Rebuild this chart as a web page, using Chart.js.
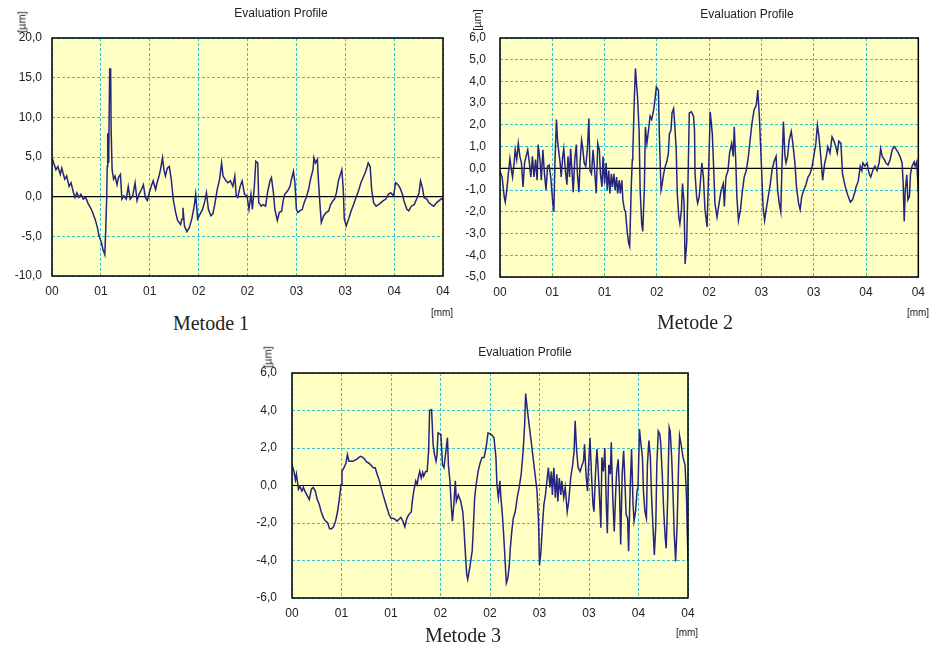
<!DOCTYPE html>
<html><head><meta charset="utf-8">
<script src="https://cdn.jsdelivr.net/npm/chart.js@4.4.0/dist/chart.umd.min.js"></script>
<style>
body{margin:0;background:#fff;width:933px;height:647px;position:relative;overflow:hidden;font-family:"Liberation Sans",Arial,sans-serif;color:#222;}
canvas{position:absolute;}
.t{position:absolute;white-space:nowrap;transform:translate(-50%,-50%);line-height:1;}
.title{font-size:12px;}
.met{font-family:"Liberation Serif","Times New Roman",serif;font-size:20px;}
.mm{font-size:10px;}
.um{font-size:11px;transform:translate(-50%,-50%) rotate(-90deg);}
</style></head>
<body>
<canvas id="c1" width="460" height="295" style="left:0;top:13px"></canvas>
<canvas id="c2" width="473" height="295" style="left:460px;top:13px"></canvas>
<canvas id="c3" width="470" height="277" style="left:240px;top:348px"></canvas>

<div class="t title" style="left:281px;top:13px">Evaluation Profile</div>
<div class="t title" style="left:747px;top:14px">Evaluation Profile</div>
<div class="t title" style="left:525px;top:352px">Evaluation Profile</div>
<div class="t met" style="left:211px;top:323px">Metode 1</div>
<div class="t met" style="left:695px;top:322px">Metode 2</div>
<div class="t met" style="left:463px;top:635px">Metode 3</div>
<div class="t mm" style="left:442px;top:313px">[mm]</div>
<div class="t mm" style="left:918px;top:313px">[mm]</div>
<div class="t mm" style="left:687px;top:633px">[mm]</div>
<div class="t um" style="left:22px;top:22px">[µm]</div>
<div class="t um" style="left:477px;top:20px">[µm]</div>
<div class="t um" style="left:268px;top:357px">[µm]</div>

<script>
// ---- tick labels ----
const xTickLabels = ["00","01","01","02","02","03","03","04","04"];
const yTicks1 = ["-10,0","-5,0","0,0","5,0","10,0","15,0","20,0"];
const yTicks2 = ["-5,0","-4,0","-3,0","-2,0","-1,0","0,0","1,0","2,0","3,0","4,0","5,0","6,0"];
const yTicks3 = ["-6,0","-4,0","-2,0","0,0","2,0","4,0","6,0"];
const zeroLine = [[0,0],[8,0]];

// ---- profile data: [position (grid units), height µm] ----
const metode1 = [[0,4.9],[0.08,3.4],[0.12,3.8],[0.17,2.8],[0.2,3.6],[0.26,2.2],[0.3,2.6],[0.35,1.3],[0.39,1.75],[0.44,0.5],[0.47,-0.1],[0.51,0.5],[0.55,-0.1],[0.59,0.3],[0.64,-0.3],[0.69,-0.1],[0.73,-0.75],[0.77,-1.2],[0.82,-1.8],[0.88,-2.8],[0.93,-3.9],[0.96,-4.9],[1.01,-5.75],[1.04,-6.6],[1.08,-7.3],[1.1,-4.1],[1.12,0.1],[1.13,3.8],[1.14,8.0],[1.16,4.25],[1.18,16.1],[1.2,16.1],[1.21,8.4],[1.23,3.4],[1.26,2.2],[1.29,2.6],[1.33,1.5],[1.36,2.4],[1.4,2.8],[1.43,-0.3],[1.47,0.1],[1.52,-0.3],[1.56,1.3],[1.6,-0.3],[1.65,0.1],[1.7,1.75],[1.74,-0.5],[1.78,0.3],[1.83,0.9],[1.87,1.5],[1.91,-0.1],[1.95,-0.5],[1.99,0.5],[2.03,1.3],[2.07,2.0],[2.12,0.9],[2.15,1.75],[2.19,2.6],[2.22,3.4],[2.26,4.9],[2.29,3.4],[2.32,2.6],[2.36,3.6],[2.4,3.8],[2.44,2.2],[2.48,-0.3],[2.53,-2.0],[2.57,-3.0],[2.63,-3.5],[2.66,-2.8],[2.68,-1.4],[2.71,-3.7],[2.76,-4.4],[2.81,-3.9],[2.86,-2.8],[2.91,-1.2],[2.94,0.3],[2.98,-2.8],[3.03,-2.2],[3.08,-1.6],[3.13,-0.5],[3.16,0.5],[3.2,-1.6],[3.25,-2.4],[3.29,-2.2],[3.33,-1.0],[3.38,0.9],[3.43,2.2],[3.47,4.25],[3.5,2.6],[3.56,2.0],[3.6,1.75],[3.65,2.0],[3.7,1.3],[3.74,2.6],[3.77,0.1],[3.8,-0.1],[3.85,1.3],[3.89,2.0],[3.94,0.3],[3.99,0.1],[4.03,-1.6],[4.07,0.3],[4.1,-1.6],[4.14,1.3],[4.17,4.45],[4.21,4.25],[4.23,-0.75],[4.28,-1.2],[4.32,-1.0],[4.37,-1.2],[4.41,0.5],[4.46,2.0],[4.49,2.4],[4.53,0.5],[4.56,-1.6],[4.61,-3.0],[4.65,-2.0],[4.7,-1.8],[4.73,-0.5],[4.76,0.3],[4.82,0.7],[4.87,1.3],[4.9,2.2],[4.94,3.2],[4.97,1.75],[5.0,-1.6],[5.03,-2.0],[5.07,-1.8],[5.12,-1.6],[5.16,-0.75],[5.2,-0.1],[5.25,0.9],[5.29,2.2],[5.34,3.4],[5.36,4.9],[5.39,4.25],[5.43,4.7],[5.45,2.2],[5.48,-0.75],[5.51,-3.25],[5.56,-2.4],[5.61,-2.0],[5.66,-1.8],[5.7,-1.0],[5.75,-0.5],[5.78,-0.3],[5.82,0.5],[5.86,2.0],[5.9,2.8],[5.93,3.4],[5.96,0.9],[5.98,-2.8],[6.02,-3.7],[6.07,-2.8],[6.12,-1.8],[6.17,-1.0],[6.22,-0.1],[6.27,0.7],[6.32,1.75],[6.38,2.6],[6.42,3.2],[6.47,4.25],[6.51,3.8],[6.54,0.9],[6.58,-0.75],[6.63,-1.2],[6.68,-1.0],[6.73,-0.75],[6.78,-0.5],[6.83,-0.3],[6.88,0.3],[6.93,0.5],[6.99,0.1],[7.03,1.75],[7.08,1.5],[7.12,1.1],[7.17,0.3],[7.2,-0.5],[7.26,-1.6],[7.3,-1.8],[7.35,-1.2],[7.41,-1.0],[7.46,-0.3],[7.51,0.5],[7.54,2.0],[7.58,1.1],[7.61,-0.1],[7.67,-0.3],[7.71,-0.75],[7.76,-1.0],[7.81,-1.2],[7.87,-0.75],[7.92,-0.5],[7.96,-0.3],[8.0,-0.25]];

const metode2 = [[0,-0.15],[0.04,-0.4],[0.08,-1.3],[0.1,-1.55],[0.13,-1.0],[0.16,-0.25],[0.19,0.45],[0.22,-0.1],[0.24,-0.4],[0.27,0.25],[0.29,0.85],[0.32,0.4],[0.35,1.15],[0.38,0.55],[0.41,0.25],[0.44,-0.85],[0.47,0.25],[0.5,0.55],[0.53,0.85],[0.56,0.3],[0.59,-0.4],[0.62,0.55],[0.65,-0.4],[0.68,0.4],[0.71,-0.55],[0.73,1.1],[0.77,0.25],[0.79,-0.55],[0.82,0.85],[0.85,-0.25],[0.88,-1.0],[0.91,0.1],[0.94,0.15],[0.97,-0.4],[1.01,-1.6],[1.03,-2.0],[1.05,0.25],[1.08,2.25],[1.1,1.3],[1.12,0.85],[1.15,0.25],[1.17,-0.4],[1.2,0.55],[1.22,0.9],[1.25,-0.1],[1.28,-0.75],[1.3,0.55],[1.33,-0.4],[1.35,0.9],[1.38,-0.25],[1.4,-1.1],[1.43,0.4],[1.46,1.1],[1.48,-0.25],[1.51,-1.1],[1.53,0.25],[1.56,1.3],[1.58,1.0],[1.61,0.25],[1.64,0.1],[1.67,0.85],[1.7,2.3],[1.72,-0.1],[1.75,-0.25],[1.78,0.85],[1.81,-0.1],[1.84,-1.15],[1.87,1.15],[1.9,0.85],[1.92,-0.25],[1.95,-0.85],[1.97,0.55],[2.0,-0.7],[2.03,0.25],[2.05,-1.0],[2.08,-0.1],[2.1,-1.15],[2.13,-0.25],[2.15,-0.85],[2.18,-0.25],[2.2,-1.0],[2.23,-0.4],[2.25,-1.15],[2.28,-0.55],[2.3,-1.15],[2.33,-0.55],[2.35,-1.45],[2.38,-1.9],[2.4,-2.0],[2.43,-2.85],[2.46,-3.45],[2.48,-3.6],[2.51,-0.85],[2.53,0.4],[2.54,0.7],[2.57,3.3],[2.59,4.6],[2.61,3.9],[2.63,3.3],[2.66,1.75],[2.68,-1.0],[2.71,-2.55],[2.73,-2.9],[2.76,-1.0],[2.78,1.9],[2.81,1.15],[2.84,1.75],[2.87,2.4],[2.9,2.25],[2.94,2.7],[2.97,3.3],[2.99,3.75],[3.03,3.6],[3.05,1.3],[3.08,-1.0],[3.1,-0.75],[3.13,-0.25],[3.16,0.1],[3.19,0.3],[3.22,0.7],[3.24,1.6],[3.27,1.75],[3.29,2.55],[3.32,2.75],[3.34,2.1],[3.37,0.85],[3.39,-1.15],[3.42,-2.25],[3.44,-2.55],[3.47,-1.9],[3.49,-0.7],[3.52,-1.6],[3.54,-4.4],[3.57,-3.45],[3.59,-1.3],[3.62,2.55],[3.66,2.6],[3.7,2.4],[3.72,1.75],[3.73,-0.25],[3.76,-1.3],[3.78,-1.6],[3.81,-1.3],[3.84,-0.4],[3.86,0.25],[3.89,-0.4],[3.92,-1.9],[3.96,-2.7],[3.99,-0.1],[4.02,2.6],[4.06,1.6],[4.09,-0.25],[4.11,-1.6],[4.15,-2.25],[4.19,-1.6],[4.23,-1.0],[4.27,-0.7],[4.29,-1.75],[4.32,-0.4],[4.36,-0.1],[4.39,0.7],[4.43,1.15],[4.46,0.55],[4.48,1.9],[4.51,0.25],[4.53,-1.3],[4.56,-2.4],[4.6,-1.9],[4.63,-1.15],[4.67,-0.4],[4.71,-0.1],[4.75,0.55],[4.79,1.45],[4.82,2.1],[4.86,2.7],[4.9,2.9],[4.93,3.6],[4.96,2.4],[5.0,0.1],[5.03,-1.75],[5.06,-2.4],[5.09,-1.9],[5.13,-1.3],[5.17,-0.7],[5.2,-0.1],[5.24,0.3],[5.28,0.55],[5.31,-1.0],[5.34,-1.6],[5.37,-2.0],[5.39,-0.1],[5.42,2.15],[5.45,0.55],[5.47,0.25],[5.5,0.55],[5.53,1.3],[5.57,1.7],[5.6,1.15],[5.64,0.25],[5.67,-0.85],[5.71,-1.6],[5.74,-1.9],[5.77,-1.3],[5.81,-1.0],[5.85,-0.75],[5.89,-0.4],[5.93,-0.25],[5.97,0.1],[6.0,0.55],[6.04,1.15],[6.07,2.0],[6.1,1.45],[6.14,0.4],[6.17,-0.55],[6.21,0.25],[6.24,0.55],[6.27,1.0],[6.31,0.7],[6.35,1.45],[6.38,1.3],[6.42,1.0],[6.45,0.7],[6.48,1.25],[6.52,1.15],[6.55,-0.25],[6.59,-0.7],[6.62,-1.0],[6.66,-1.3],[6.7,-1.55],[6.74,-1.45],[6.78,-1.15],[6.81,-0.85],[6.85,-0.6],[6.89,0.1],[6.92,-0.1],[6.94,0.25],[6.98,0.1],[7.02,0.25],[7.06,-0.25],[7.09,-0.4],[7.13,-0.1],[7.17,0.1],[7.21,-0.1],[7.25,0.25],[7.28,0.9],[7.31,0.55],[7.35,0.4],[7.38,0.25],[7.42,0.15],[7.46,0.4],[7.5,0.85],[7.54,1.0],[7.57,0.9],[7.61,0.75],[7.65,0.55],[7.69,0.25],[7.71,-0.7],[7.73,-2.45],[7.75,-1.0],[7.78,-0.3],[7.8,-1.45],[7.83,-1.3],[7.85,-0.25],[7.88,0.1],[7.92,0.3],[7.94,0.1],[7.97,0.3],[8.0,-1.1]];

const metode3 = [[0,1.1],[0.04,0.75],[0.07,0.3],[0.09,0.6],[0.13,-0.2],[0.16,-0.05],[0.2,-0.3],[0.23,-0.1],[0.26,-0.3],[0.31,-0.55],[0.35,-0.75],[0.39,-0.2],[0.43,-0.1],[0.47,-0.3],[0.51,-0.75],[0.55,-1.0],[0.59,-1.4],[0.64,-1.75],[0.68,-1.9],[0.72,-2.0],[0.76,-2.3],[0.8,-2.3],[0.84,-2.2],[0.88,-1.9],[0.92,-1.4],[0.96,-0.65],[0.99,0.05],[1.01,0.75],[1.05,0.95],[1.09,1.2],[1.12,1.65],[1.15,1.3],[1.19,1.3],[1.23,1.3],[1.27,1.35],[1.31,1.4],[1.35,1.5],[1.39,1.55],[1.43,1.5],[1.47,1.4],[1.51,1.25],[1.55,1.2],[1.59,1.1],[1.64,0.95],[1.68,0.95],[1.72,0.6],[1.76,0.3],[1.8,-0.1],[1.84,-0.5],[1.88,-0.85],[1.92,-1.2],[1.96,-1.55],[2.0,-1.75],[2.04,-1.75],[2.08,-1.8],[2.12,-1.9],[2.16,-1.8],[2.2,-1.7],[2.24,-1.9],[2.28,-2.2],[2.32,-1.75],[2.36,-1.55],[2.41,-1.4],[2.43,-0.85],[2.46,-0.3],[2.5,0.25],[2.53,0.05],[2.55,0.4],[2.58,0.75],[2.61,0.4],[2.64,0.7],[2.66,0.5],[2.7,0.75],[2.73,0.75],[2.76,1.85],[2.78,4.0],[2.82,4.05],[2.85,2.2],[2.88,1.65],[2.91,1.3],[2.93,1.65],[2.95,2.8],[2.99,2.75],[3.01,2.65],[3.04,1.1],[3.07,0.95],[3.11,1.85],[3.14,2.55],[3.16,1.1],[3.19,0.25],[3.22,-1.2],[3.24,-1.9],[3.27,-1.0],[3.3,0.25],[3.32,-0.85],[3.36,-0.5],[3.41,-0.85],[3.45,-1.4],[3.47,-2.1],[3.5,-3.5],[3.53,-4.75],[3.55,-5.0],[3.59,-4.4],[3.64,-3.5],[3.66,-2.45],[3.69,-0.65],[3.72,0.05],[3.76,0.75],[3.8,1.2],[3.84,1.5],[3.88,1.5],[3.92,2.0],[3.96,2.8],[4.01,2.75],[4.05,2.65],[4.08,2.55],[4.12,1.5],[4.14,0.05],[4.17,-0.65],[4.2,0.25],[4.22,-0.65],[4.25,-1.55],[4.28,-2.8],[4.31,-4.25],[4.33,-5.2],[4.36,-4.95],[4.39,-4.25],[4.41,-3.35],[4.44,-2.45],[4.47,-1.75],[4.51,-1.4],[4.55,-0.65],[4.59,-0.1],[4.63,0.6],[4.67,1.85],[4.7,3.25],[4.72,4.9],[4.75,4.15],[4.79,3.25],[4.83,2.4],[4.87,1.5],[4.91,0.6],[4.95,-0.3],[4.98,-1.9],[5.0,-4.25],[5.03,-3.5],[5.06,-2.1],[5.09,-1.0],[5.12,-0.5],[5.15,0.25],[5.18,0.95],[5.21,-0.1],[5.24,0.75],[5.26,-0.5],[5.29,0.95],[5.32,-0.65],[5.35,0.6],[5.37,-0.85],[5.4,0.4],[5.43,-0.5],[5.45,0.25],[5.49,-0.65],[5.52,-0.1],[5.56,-1.4],[5.59,-0.85],[5.63,0.4],[5.67,1.1],[5.7,1.85],[5.72,3.45],[5.75,1.85],[5.78,0.95],[5.82,0.75],[5.86,1.1],[5.89,1.3],[5.91,2.2],[5.94,0.6],[5.97,-0.3],[5.99,0.95],[6.02,2.55],[6.05,0.6],[6.08,-1.0],[6.1,-1.4],[6.13,0.6],[6.16,1.95],[6.18,1.1],[6.21,-0.5],[6.24,-2.25],[6.26,1.5],[6.29,0.75],[6.32,2.0],[6.35,-1.0],[6.37,-2.55],[6.4,1.1],[6.43,0.6],[6.45,2.3],[6.48,-0.65],[6.51,-2.45],[6.54,-0.3],[6.56,0.75],[6.59,1.4],[6.62,-0.65],[6.64,-3.15],[6.67,0.6],[6.7,1.85],[6.72,0.6],[6.75,-1.55],[6.78,-1.75],[6.8,-3.5],[6.83,-0.3],[6.86,1.95],[6.89,-1.0],[6.91,-1.9],[6.94,-1.4],[6.97,-0.3],[6.99,-0.1],[7.02,3.0],[7.05,2.2],[7.08,1.5],[7.1,-0.3],[7.13,-1.4],[7.16,-1.75],[7.18,1.1],[7.21,2.4],[7.24,1.5],[7.26,-0.3],[7.29,-2.1],[7.32,-3.7],[7.35,-2.1],[7.37,1.1],[7.4,2.9],[7.43,2.75],[7.45,2.2],[7.48,0.6],[7.51,-1.4],[7.54,-2.8],[7.56,-3.35],[7.59,-0.65],[7.62,3.1],[7.64,2.9],[7.67,1.5],[7.7,-0.65],[7.72,-2.45],[7.75,-4.05],[7.78,-2.1],[7.81,1.1],[7.83,2.65],[7.86,2.2],[7.9,1.5],[7.94,1.1],[7.97,-0.65],[8.0,-4.0]];

// ---- styles ----
const BG = '#ffffc4';
const GRID = '#2fc3d6';
const LINE = '#25257f';
const FONT = '"Liberation Sans", Arial, sans-serif';

const framePlugin = {
  id: 'frame',
  beforeDraw(c) {
    const a = c.chartArea, ctx = c.ctx;
    ctx.save(); ctx.fillStyle = BG; ctx.fillRect(a.left, a.top, a.right - a.left, a.bottom - a.top); ctx.restore();
  },
  afterDraw(c) {
    const a = c.chartArea, ctx = c.ctx;
    ctx.save(); ctx.strokeStyle = '#000'; ctx.lineWidth = 1.5;
    ctx.strokeRect(a.left, a.top, a.right - a.left, a.bottom - a.top); ctx.restore();
  }
};

function toXY(arr) { return arr.map(p => ({x: p[0], y: p[1]})); }

function makeChart(id, pts, yMin, yMax, yStep, yLabels, yAxisW, yPad, padRight, xAxisH) {
  new Chart(document.getElementById(id), {
    type: 'line',
    data: { datasets: [
      { data: toXY(pts), borderColor: LINE, borderWidth: 1.5, pointRadius: 0, tension: 0, fill: false, order: 1 },
      { data: toXY(zeroLine), borderColor: '#000', borderWidth: 1.2, pointRadius: 0, fill: false, order: 2 }
    ]},
    options: {
      responsive: false, animation: false, devicePixelRatio: 1,
      layout: { padding: { top: 25, right: padRight, left: 0, bottom: 0 } },
      plugins: { legend: { display: false }, tooltip: { enabled: false } },
      scales: {
        x: {
          type: 'linear', min: 0, max: 8,
          ticks: { stepSize: 1, autoSkip: false, maxRotation: 0, padding: 8, color: '#222',
                   font: { family: FONT, size: 12 }, callback: (v, i) => xTickLabels[i] },
          grid: { color: GRID, lineWidth: 1, drawTicks: false },
          border: { display: false, dash: [3, 2] },
          afterFit: s => { s.height = xAxisH; }
        },
        y: {
          min: yMin, max: yMax,
          ticks: { stepSize: yStep, autoSkip: false, padding: yPad, color: '#222',
                   font: { family: FONT, size: 12 }, callback: (v, i) => yLabels[i] },
          grid: { color: GRID, lineWidth: 1, drawTicks: false },
          border: { display: false, dash: [3, 2] },
          afterFit: s => { s.width = yAxisW; }
        }
      }
    },
    plugins: [framePlugin]
  });
}

makeChart('c1', metode1, -10, 20, 5, yTicks1, 52, 10, 17, 32);
makeChart('c2', metode2, -5, 6, 1, yTicks2, 40, 14, 12, 31);
makeChart('c3', metode3, -6, 6, 2, yTicks3, 52, 15, 22, 27);
</script>
</body></html>
